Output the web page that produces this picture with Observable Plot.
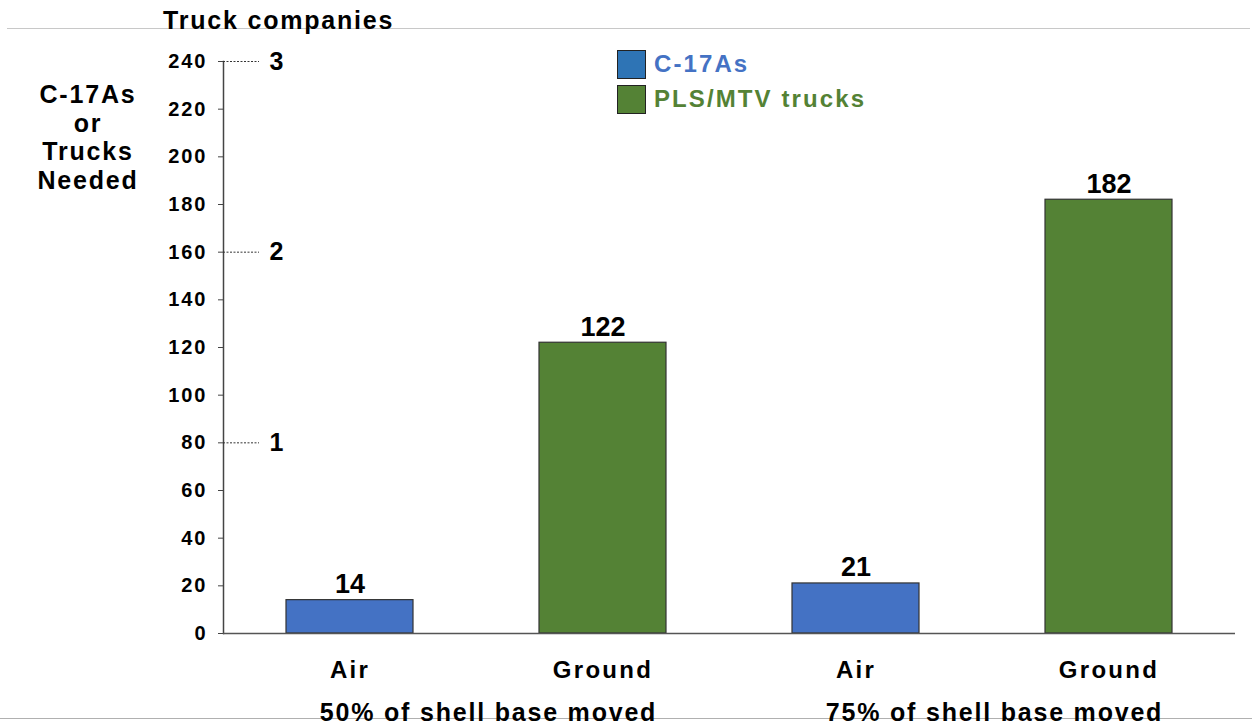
<!DOCTYPE html>
<html>
<head>
<meta charset="utf-8">
<script src="https://cdn.jsdelivr.net/npm/d3@7"></script>
<script src="https://cdn.jsdelivr.net/npm/@observablehq/plot@0.6"></script>
<style>
  html, body { margin: 0; padding: 0; background: #fff; }
  #wrap { position: relative; width: 1252px; height: 728px; overflow: hidden; font-family: 'Liberation Sans', Arial, sans-serif; font-weight: bold; }
  #wrap svg { position: absolute; left: 0; top: 0; }
  .hline { position: absolute; height: 0; }
  .txt { position: absolute; white-space: nowrap; color: #000; }
  #wrap g[aria-label="y-axis tick label"] text { letter-spacing: 2px; }
  #wrap g[aria-label="x-axis tick label"] text { letter-spacing: 2.3px; }
  #wrap g[aria-label="fx-axis tick label"] text { letter-spacing: 1.8px; }
  .legend-row { position: absolute; left: 617px; display: flex; align-items: center; }
  .swatch { width: 27px; height: 27px; border: 1.5px solid #222; box-sizing: content-box; }
  .legend-label { margin-left: 8px; font-size: 24px; letter-spacing: 2.1px; line-height: 30px; }
</style>
</head>
<body>
<div id="wrap"></div>
<script>
(function () {
// ---- data ----
const groups = ["50% of shell base moved", "75% of shell base moved"];
const modes = ["Air", "Ground"];
const seriesNames = ["C-17As", "PLS/MTV trucks"];
const values50 = [14, 122];
const values75 = [21, 182];
const yTicks = [0, 20, 40, 60, 80, 100, 120, 140, 160, 180, 200, 220, 240];
const companyTicks = [1, 2, 3];
const trucksPerCompany = 80;
const barColors = ["#4472C4", "#548235"];
const swatchColors = ["#2E74B5", "#548235"];
const legendTextColors = ["#4472C4", "#548235"];
const yTitleLines = ["C-17As", "or", "Trucks", "Needed"];
const topTitle = "Truck companies";

const groupValues = [values50, values75];
const data = groups.flatMap((g, gi) => modes.map((m, mi) => ({
  group: g, mode: m, series: seriesNames[mi], value: groupValues[gi][mi]
})));

const chart = Plot.plot({
  width: 1252,
  height: 728,
  marginLeft: 223,
  marginRight: 17,
  marginTop: 61,
  marginBottom: 95,
  style: {fontFamily: "'Liberation Sans', Arial, sans-serif", fontWeight: "bold", color: "#000", background: "transparent", overflow: "visible"},
  fx: {domain: groups, padding: 0},
  x: {domain: modes, paddingInner: 0.5, paddingOuter: 0.25},
  y: {domain: [0, 240]},
  color: {domain: seriesNames, range: barColors},
  marks: [
    Plot.frame({anchor: "left", facet: "super", stroke: "#444", strokeWidth: 1.5}),
    Plot.barY(data, {fx: "group", x: "mode", y: "value", fill: "series", stroke: "#333", strokeWidth: 1.2}),
    Plot.ruleY([0], {stroke: "#555", strokeWidth: 1.5}),
    Plot.text(data, {fx: "group", x: "mode", y: "value", text: d => String(d.value), lineAnchor: "bottom", dy: -7, fontSize: 27, fill: "#000"}),
    Plot.axisY(yTicks, {anchor: "left", tickSize: 5, tickPadding: 11, fontSize: 20, label: null, stroke: "#444"}),
    Plot.axisY(companyTicks.map(c => c * trucksPerCompany), {
      anchor: "left", tickSize: -36, tickPadding: -10, textAnchor: "start",
      tickFormat: d => String(d / trucksPerCompany), fontSize: 25, strokeDasharray: "2,1.5", stroke: "#333", label: null
    }),
    Plot.axisX({anchor: "bottom", tickSize: 0, tickPadding: 27, fontSize: 24, label: null}),
    Plot.axisFx({anchor: "bottom", tickSize: 0, tickPadding: 70, fontSize: 25, label: null, dx: 12})
  ]
});

const wrap = document.getElementById("wrap");

// decorative slide lines
const topLine = document.createElement("div");
topLine.className = "hline";
Object.assign(topLine.style, {left: "7px", width: "1243px", top: "28px", borderTop: "1.5px solid #c8c8c8"});
wrap.appendChild(topLine);
const botLine = document.createElement("div");
botLine.className = "hline";
Object.assign(botLine.style, {left: "0px", width: "1252px", top: "718px", borderTop: "1px solid #b0b0b0"});
wrap.appendChild(botLine);

wrap.appendChild(chart);

// secondary axis title
const tt = document.createElement("div");
tt.className = "txt";
tt.textContent = topTitle;
Object.assign(tt.style, {left: "163px", top: "8px", fontSize: "25px", lineHeight: "25px", letterSpacing: "1.8px"});
wrap.appendChild(tt);

// y title
const yt = document.createElement("div");
yt.className = "txt";
Object.assign(yt.style, {left: "18px", width: "140px", top: "80px", fontSize: "25px", lineHeight: "28.5px", letterSpacing: "1.8px", textAlign: "center"});
yt.innerHTML = yTitleLines.map(s => `<div>${s}</div>`).join("");
wrap.appendChild(yt);

// legend
seriesNames.forEach((s, i) => {
  const row = document.createElement("div");
  row.className = "legend-row";
  row.style.top = (49 + i * 35) + "px";
  const sw = document.createElement("div");
  sw.className = "swatch";
  sw.style.background = swatchColors[i];
  const lb = document.createElement("div");
  lb.className = "legend-label";
  lb.style.color = legendTextColors[i];
  lb.textContent = s;
  row.appendChild(sw);
  row.appendChild(lb);
  wrap.appendChild(row);
});
})();
</script>
</body>
</html>
